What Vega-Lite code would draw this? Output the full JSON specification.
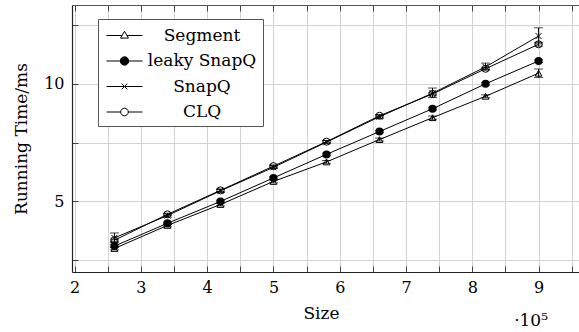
{
  "$schema": "https://vega.github.io/schema/vega-lite/v6.json",
  "autosize": {"type": "none"},
  "width": 507,
  "height": 267,
  "padding": {"left": 72, "top": 5, "right": 0, "bottom": 60},
  "config": {"view": {"stroke": null}, "font": "DejaVu Serif"},
  "title": {"text": "·10⁵", "orient": "bottom", "anchor": "end", "font": "DejaVu Serif", "fontSize": 17, "fontWeight": "normal", "color": "black", "dx": -31, "offset": -8},
  "data": {"values": [
    {"x": 2.6, "s": "Segment", "y": 3.0, "lo": 2.94, "hi": 3.06},
    {"x": 3.4, "s": "Segment", "y": 3.98, "lo": 3.92, "hi": 4.04},
    {"x": 4.2, "s": "Segment", "y": 4.87, "lo": 4.81, "hi": 4.93},
    {"x": 5.0, "s": "Segment", "y": 5.85, "lo": 5.79, "hi": 5.91},
    {"x": 5.8, "s": "Segment", "y": 6.68, "lo": 6.62, "hi": 6.74},
    {"x": 6.6, "s": "Segment", "y": 7.63, "lo": 7.57, "hi": 7.69},
    {"x": 7.4, "s": "Segment", "y": 8.56, "lo": 8.49, "hi": 8.63},
    {"x": 8.2, "s": "Segment", "y": 9.47, "lo": 9.41, "hi": 9.53},
    {"x": 9.0, "s": "Segment", "y": 10.45, "lo": 10.27, "hi": 10.63},
    {"x": 2.6, "s": "leaky SnapQ", "y": 3.1, "lo": 3.05, "hi": 3.15},
    {"x": 3.4, "s": "leaky SnapQ", "y": 4.07, "lo": 4.02, "hi": 4.12},
    {"x": 4.2, "s": "leaky SnapQ", "y": 5.0, "lo": 4.95, "hi": 5.05},
    {"x": 5.0, "s": "leaky SnapQ", "y": 6.0, "lo": 5.95, "hi": 6.05},
    {"x": 5.8, "s": "leaky SnapQ", "y": 7.0, "lo": 6.95, "hi": 7.05},
    {"x": 6.6, "s": "leaky SnapQ", "y": 7.97, "lo": 7.92, "hi": 8.02},
    {"x": 7.4, "s": "leaky SnapQ", "y": 8.94, "lo": 8.89, "hi": 8.99},
    {"x": 8.2, "s": "leaky SnapQ", "y": 10.0, "lo": 9.95, "hi": 10.05},
    {"x": 9.0, "s": "leaky SnapQ", "y": 10.97, "lo": 10.92, "hi": 11.02},
    {"x": 2.6, "s": "SnapQ", "y": 3.45, "lo": 3.25, "hi": 3.66},
    {"x": 3.4, "s": "SnapQ", "y": 4.4, "lo": 4.33, "hi": 4.47},
    {"x": 4.2, "s": "SnapQ", "y": 5.45, "lo": 5.38, "hi": 5.52},
    {"x": 5.0, "s": "SnapQ", "y": 6.45, "lo": 6.4, "hi": 6.52},
    {"x": 5.8, "s": "SnapQ", "y": 7.52, "lo": 7.47, "hi": 7.58},
    {"x": 6.6, "s": "SnapQ", "y": 8.6, "lo": 8.53, "hi": 8.67},
    {"x": 7.4, "s": "SnapQ", "y": 9.6, "lo": 9.42, "hi": 9.82},
    {"x": 8.2, "s": "SnapQ", "y": 10.72, "lo": 10.6, "hi": 10.88},
    {"x": 9.0, "s": "SnapQ", "y": 12.03, "lo": 11.7, "hi": 12.38},
    {"x": 2.6, "s": "CLQ", "y": 3.35, "lo": 3.3, "hi": 3.4},
    {"x": 3.4, "s": "CLQ", "y": 4.45, "lo": 4.4, "hi": 4.5},
    {"x": 4.2, "s": "CLQ", "y": 5.47, "lo": 5.42, "hi": 5.52},
    {"x": 5.0, "s": "CLQ", "y": 6.5, "lo": 6.45, "hi": 6.55},
    {"x": 5.8, "s": "CLQ", "y": 7.54, "lo": 7.49, "hi": 7.59},
    {"x": 6.6, "s": "CLQ", "y": 8.64, "lo": 8.59, "hi": 8.69},
    {"x": 7.4, "s": "CLQ", "y": 9.57, "lo": 9.52, "hi": 9.62},
    {"x": 8.2, "s": "CLQ", "y": 10.64, "lo": 10.58, "hi": 10.7},
    {"x": 9.0, "s": "CLQ", "y": 11.68, "lo": 11.6, "hi": 11.76}
  ]},
  "resolve": {"axis": {"x": "independent"}},
  "layer": [
    {
      "mark": {"type": "line", "strokeWidth": 1},
      "encoding": {
        "x": {"field": "x", "type": "quantitative", "title": "Size",
          "scale": {"domain": [1.96, 9.61], "nice": false, "zero": false},
          "axis": {"orient": "bottom", "values": [2, 2.5, 3, 3.5, 4, 4.5, 5, 5.5, 6, 6.5, 7, 7.5, 8, 8.5, 9, 9.5],
            "labelExpr": "datum.value % 1 === 0 ? format(datum.value, 'd') : ''",
            "labelFont": "DejaVu Serif", "labelFontSize": 16, "labelColor": "black", "labelFlush": false, "labelOverlap": false,
            "labelPadding": 13, "tickSize": -6, "tickColor": "#444", "domainColor": "#222", "domainWidth": 1.2,
            "grid": true, "gridColor": "#d2d2d2", "gridWidth": 1,
            "titleFont": "DejaVu Serif", "titleFontSize": 17, "titleFontWeight": "normal", "titleColor": "black", "titlePadding": 10, "titleX": 249}},
        "y": {"field": "y", "type": "quantitative", "title": "Running Time/ms",
          "scale": {"domain": [2.0, 13.35], "nice": false, "zero": false},
          "axis": {"orient": "left", "values": [2.5, 5, 7.5, 10, 12.5],
            "labelExpr": "datum.value % 5 === 0 ? format(datum.value, 'd') : ''",
            "labelFont": "DejaVu Serif", "labelFontSize": 16, "labelColor": "black", "labelFlush": false, "labelOverlap": false,
            "labelPadding": 14, "tickSize": -6, "tickColor": "#444", "domainColor": "#222", "domainWidth": 1.2,
            "grid": true, "gridColor": "#d2d2d2", "gridWidth": 1,
            "titleFont": "DejaVu Serif", "titleFontSize": 17, "titleFontWeight": "normal", "titleColor": "black", "titlePadding": 13}},
        "color": {"field": "s", "type": "nominal",
          "scale": {"domain": ["Segment", "leaky SnapQ", "SnapQ", "CLQ"], "range": ["black", "black", "black", "black"]},
          "legend": {"title": null, "orient": "none", "legendX": 26, "legendY": 14, "padding": 6,
            "strokeColor": "#555", "fillColor": "white", "symbolSize": 400, "symbolType": "circle",
            "labelFont": "DejaVu Serif", "labelFontSize": 17, "labelColor": "black", "labelAlign": "center",
            "labelOffset": 67, "symbolOffset": 10, "rowPadding": 6.5, "labelLimit": 300,
            "encode": {"symbols": {"update": {
              "shape": {"signal": "datum.value === 'Segment' ? 'M-1.8,0H-0.24M0.24,0H1.8M0,-0.42L0.4,0.26L-0.4,0.26Z' : datum.value === 'leaky SnapQ' ? 'M-1.8,0H1.8M0.42,0A0.42,0.42 0 1,1 -0.42,0A0.42,0.42 0 1,1 0.42,0Z' : datum.value === 'SnapQ' ? 'M-1.8,0H1.8M-0.28,-0.28L0.28,0.28M-0.28,0.28L0.28,-0.28' : 'M-1.8,0H-0.38M0.38,0H1.8M0.38,0A0.38,0.38 0 1,1 -0.38,0A0.38,0.38 0 1,1 0.38,0Z'"},
              "fill": {"signal": "datum.value === 'leaky SnapQ' ? 'black' : 'transparent'"},
              "stroke": {"value": "black"},
              "strokeWidth": {"value": 1},
              "opacity": {"value": 1}
            }}}}}
      }
    },
    {
      "mark": {"type": "rule", "color": "black", "strokeWidth": 1},
      "encoding": {
        "x": {"field": "x", "type": "quantitative", "axis": null},
        "y": {"field": "lo", "type": "quantitative"},
        "y2": {"field": "hi"}
      }
    },
    {
      "mark": {"type": "tick", "orient": "horizontal", "color": "black", "size": 9, "thickness": 1},
      "encoding": {
        "x": {"field": "x", "type": "quantitative", "axis": null},
        "y": {"field": "lo", "type": "quantitative"}
      }
    },
    {
      "mark": {"type": "tick", "orient": "horizontal", "color": "black", "size": 9, "thickness": 1},
      "encoding": {
        "x": {"field": "x", "type": "quantitative", "axis": null},
        "y": {"field": "hi", "type": "quantitative"}
      }
    },
    {
      "transform": [{"filter": "datum.s === 'Segment'"}],
      "mark": {"type": "point", "shape": "triangle-up", "filled": false, "stroke": "black", "strokeWidth": 1, "size": 45, "opacity": 1},
      "encoding": {
        "x": {"field": "x", "type": "quantitative", "axis": null},
        "y": {"field": "y", "type": "quantitative"}
      }
    },
    {
      "transform": [{"filter": "datum.s === 'leaky SnapQ'"}],
      "mark": {"type": "point", "shape": "circle", "filled": true, "fill": "black", "size": 64, "opacity": 1},
      "encoding": {
        "x": {"field": "x", "type": "quantitative", "axis": null},
        "y": {"field": "y", "type": "quantitative"}
      }
    },
    {
      "transform": [{"filter": "datum.s === 'SnapQ'"}],
      "mark": {"type": "point", "shape": "M-1,-1L1,1M-1,1L1,-1", "filled": false, "stroke": "black", "strokeWidth": 1, "size": 36, "opacity": 1},
      "encoding": {
        "x": {"field": "x", "type": "quantitative", "axis": null},
        "y": {"field": "y", "type": "quantitative"}
      }
    },
    {
      "transform": [{"filter": "datum.s === 'CLQ'"}],
      "mark": {"type": "point", "shape": "circle", "filled": false, "stroke": "black", "strokeWidth": 1, "size": 50, "opacity": 1},
      "encoding": {
        "x": {"field": "x", "type": "quantitative",
          "axis": {"orient": "top", "values": [2, 2.5, 3, 3.5, 4, 4.5, 5, 5.5, 6, 6.5, 7, 7.5, 8, 8.5, 9, 9.5],
            "labels": false, "title": null, "grid": false, "tickSize": -6, "tickColor": "#444", "domainColor": "#555", "domainWidth": 1.2}},
        "y": {"field": "y", "type": "quantitative"}
      }
    }
  ]
}
